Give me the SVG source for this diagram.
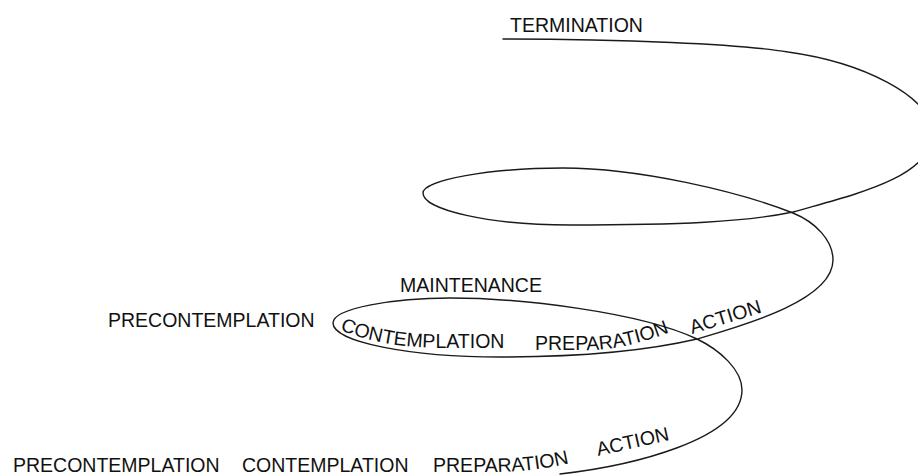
<svg xmlns="http://www.w3.org/2000/svg" xmlns:xlink="http://www.w3.org/1999/xlink" width="918" height="475" viewBox="0 0 918 475">
<style>
.lbl{font-family:"Liberation Sans",Arial,sans-serif;font-size:19.5px;fill:#111}
.spiral{fill:none;stroke:#1a1a1a;stroke-width:1.4;stroke-linejoin:round;stroke-linecap:round}
</style>
<defs>
<path id="p-contemplation" d="M 340,330 Q 380,347 440,348 L 530,348"/>
<path id="p-preparation-mid" d="M 535,350 L 590,350 Q 632,349 682,327"/>
<path id="p-action-mid" d="M 692,334 L 764,312"/>
<path id="p-preparation-bot" d="M 433,472 L 500,472 Q 540,471 578,461"/>
<path id="p-action-bot" d="M 598,456 L 670,440"/>
</defs>
<rect width="918" height="475" fill="#ffffff"/>
<g id="connectors">
<path id="spiral" class="spiral" d="M 560,474 C 630,466 742,440 742,390 C 742,370 720,350 697,339 C 640,312 520,298 450,298 C 395,298 333,308 333,323 C 333,342 410,357 500,357 C 580,357 650,350 697,339 C 745,325 833,300 833,260 C 833,240 815,222 793,213 C 740,192 640,168 563,168 C 490,168 423,180 423,193 C 423,210 490,225 570,225 C 680,225 745,222 793,212 C 852,195 932,178 932,134 C 932,95 860,62 788,52 C 740,44 620,39 503,39"/>
</g>
<g id="termination"><text class="lbl" x="510" y="32">TERMINATION</text></g>
<g id="maintenance"><text class="lbl" x="400" y="292">MAINTENANCE</text></g>
<g id="precontemplation-2"><text class="lbl" x="108" y="327">PRECONTEMPLATION</text></g>
<g id="contemplation-2"><text class="lbl"><textPath xlink:href="#p-contemplation" href="#p-contemplation">CONTEMPLATION</textPath></text></g>
<g id="preparation-2"><text class="lbl"><textPath xlink:href="#p-preparation-mid" href="#p-preparation-mid">PREPARATION</textPath></text></g>
<g id="action-2"><text class="lbl"><textPath xlink:href="#p-action-mid" href="#p-action-mid">ACTION</textPath></text></g>
<g id="precontemplation-1"><text class="lbl" x="13" y="472">PRECONTEMPLATION</text></g>
<g id="contemplation-1"><text class="lbl" x="242" y="472">CONTEMPLATION</text></g>
<g id="preparation-1"><text class="lbl"><textPath xlink:href="#p-preparation-bot" href="#p-preparation-bot">PREPARATION</textPath></text></g>
<g id="action-1"><text class="lbl"><textPath xlink:href="#p-action-bot" href="#p-action-bot">ACTION</textPath></text></g>
</svg>
